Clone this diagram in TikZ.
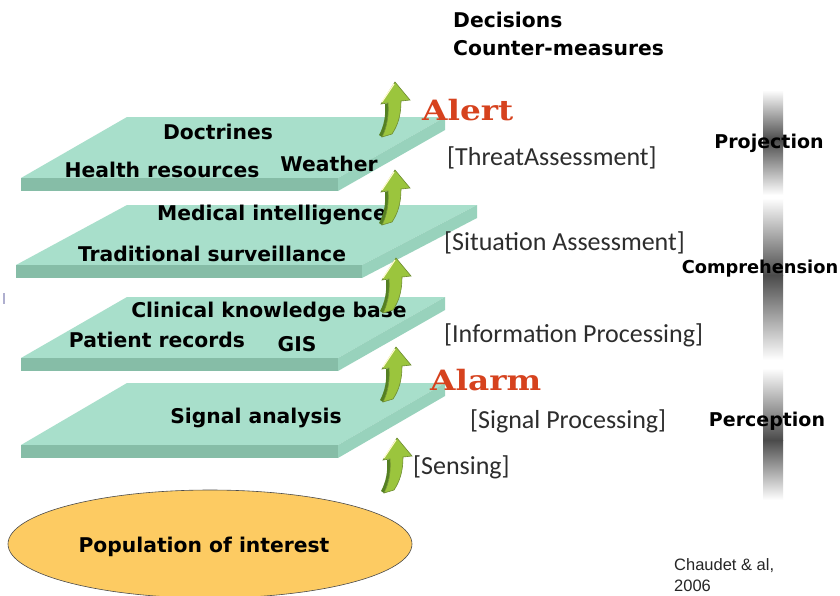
\documentclass[tikz,border=0pt]{standalone}
\usepackage{fontspec}
\usetikzlibrary{shapes.geometric}
\setmainfont{Carlito}
\newfontfamily\comicf{DejaVu Sans}
\newfontfamily\slabf{DejaVu Serif}
\newfontfamily\arialf{Liberation Sans}
\definecolor{slabtop}{RGB}{168,223,203}
\definecolor{slabfront}{RGB}{134,189,167}
\definecolor{slabside}{RGB}{152,210,188}
\definecolor{arrowgreen}{RGB}{155,197,61}
\definecolor{arrowdark}{RGB}{84,128,34}
\definecolor{arrowedge}{RGB}{110,140,50}
\definecolor{alertred}{RGB}{214,66,30}
\definecolor{popfill}{RGB}{253,203,98}
\definecolor{bracketgray}{RGB}{45,45,45}
\definecolor{barDark}{RGB}{75,75,75}
\newcommand\myslab[6]{%
  \fill[slabtop] (#1,#3) -- (#2,#3) -- (#5,#6) -- (#4,#6) -- cycle;
  \fill[slabfront] (#4,#6) -- (#5,#6) -- (#5,#6+13) -- (#4,#6+13) -- cycle;
  \fill[slabside] (#5,#6) -- (#2,#3) -- (#2,#3+13) -- (#5,#6+13) -- cycle;
}
\tikzset{
  comic/.style={font=\comicf\bfseries\fontsize{20.3}{22}\selectfont, text=black, inner sep=0pt},
  level/.style={font=\comicf\bfseries\fontsize{19}{21}\selectfont, text=black, inner sep=0pt},
  bracket/.style={font=\fontsize{26}{28}\selectfont, text=bracketgray, inner sep=0pt, anchor=west},
  alerttext/.style={font=\slabf\bfseries\fontsize{28}{30}\selectfont, text=alertred, inner sep=0pt, anchor=west},
  cite/.style={font=\arialf\fontsize{16.5}{18}\selectfont, anchor=west, inner sep=0pt, text=black!85},
  greenarrow/.pic={
    \fill[arrowdark] (-7,21) .. controls (-6,33) and (-8,45) .. (-13,55) -- (-16,53) .. controls (-11,44) and (-9,33) .. (-10,22) -- cycle;
    \filldraw[fill=arrowgreen, draw=arrowedge, line width=0.6] (0,0) -- (15,18) -- (6,19) .. controls (6,33) and (3,43) .. (-3,52) -- (-13,55) .. controls (-8,45) and (-6,33) .. (-7,21) -- (-14,22) -- cycle;
    \draw[white!80!yellow, line width=1.2] (-1,2) -- (-13,20);
  }
}
\begin{document}
\begin{tikzpicture}[x=1pt,y=-1pt]
\useasboundingbox (0,0) rectangle (840,595);
\fill[white] (0,0) rectangle (840,595);

% tiny mark at left edge
\draw[blue!25!gray!50, line width=1.2] (4,293) -- (4,304);

% level bars
\shade[top color=white, bottom color=barDark] (763,90) rectangle (783,140);
\shade[top color=barDark, bottom color=white] (763,140) rectangle (783,195);
\shade[top color=white, bottom color=barDark] (763,198) rectangle (783,275);
\shade[top color=barDark, bottom color=white] (763,275) rectangle (783,360);
\shade[top color=white, bottom color=barDark] (763,368) rectangle (783,440);
\shade[top color=barDark, bottom color=white] (763,440) rectangle (783,500);

% slabs
\myslab{127}{445}{117}{21}{338}{178}
\myslab{127}{477}{205}{16}{362}{265}
\myslab{127}{445}{297}{21}{338}{358}
\myslab{127}{445}{383}{21}{338}{445}

% slab texts
\node[comic] (doc) at (218,132) {Doctrines};
\node[comic] (hr) at (162,170) {Health resources};
\node[comic] (wea) at (329,164) {Weather};
\node[comic] (mi) at (272,215) {Medical intelligence};
\node[comic] (ts) at (212,254) {Traditional surveillance};
\node[comic] (ckb) at (269,312) {Clinical knowledge base};
\node[comic] (pr) at (157,340) {Patient records};
\node[comic] (gis) at (297,344) {GIS};
\node[comic] (sa) at (256,418) {Signal analysis};

% population
\node[ellipse, draw=black!70, line width=0.6, fill=popfill, minimum width=404, minimum height=108, inner sep=0pt] (pop) at (210,544) {};
\node[comic] (poptext) at (204,547) {Population of interest};

% arrows
\pic at (395,82) {greenarrow};
\pic at (395,170) {greenarrow};
\pic at (396,258) {greenarrow};
\pic at (396,347) {greenarrow};
\pic at (397,438) {greenarrow};

% top texts
\node[comic, anchor=west] (dec) at (453,20) {Decisions};
\node[comic, anchor=west] (cm) at (453,48) {Counter-measures};

\node[alerttext] (alert) at (422,110) {\scalebox{1.17}[1]{Alert}};
\node[alerttext] (alarm) at (430,380) {\scalebox{1.17}[1]{Alarm}};

\node[bracket] (threat) at (447,158) {[ThreatAssessment]};
\node[bracket] (sit) at (444,243) {[Situation Assessment]};
\node[bracket] (info) at (444,335) {[Information Processing]};
\node[bracket] (sig) at (470,421) {[Signal Processing]};
\node[bracket] (sens) at (413,467) {[Sensing]};

\node[level] (proj) at (769,143) {Projection};
\node[level, font=\comicf\bfseries\fontsize{17.8}{20}\selectfont] (comp) at (760,269) {Comprehension};
\node[level] (perc) at (767,421) {Perception};

\node[cite] (cite1) at (674,566) {Chaudet \& al,};
\node[cite] (cite2) at (674,586) {2006};
\end{tikzpicture}
\end{document}
